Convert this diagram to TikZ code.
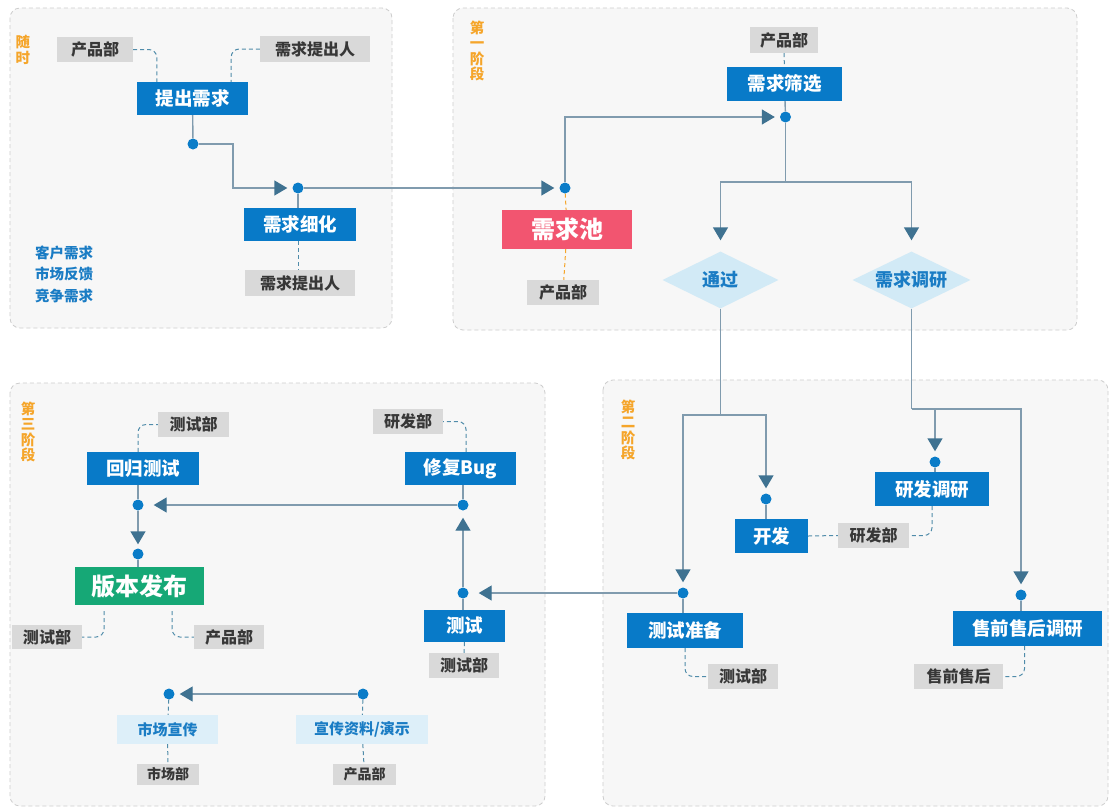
\documentclass[tikz,border=0pt]{standalone}
\usepackage{fontspec}
\setmainfont{Noto Sans CJK SC}
\usetikzlibrary{arrows.meta,shapes.geometric}
\definecolor{boxblue}{RGB}{8,122,200}
\definecolor{boxred}{RGB}{242,85,112}
\definecolor{boxgreen}{RGB}{22,168,118}
\definecolor{boxgray}{RGB}{217,217,217}
\definecolor{graytext}{RGB}{55,55,55}
\definecolor{lightb}{RGB}{210,234,246}
\definecolor{lightbox}{RGB}{221,239,249}
\definecolor{textblue}{RGB}{26,124,196}
\definecolor{panelf}{RGB}{247,247,247}
\definecolor{panelb}{RGB}{205,205,205}
\definecolor{linec}{RGB}{128,155,174}
\definecolor{arrowc}{RGB}{63,114,145}
\definecolor{dotblue}{RGB}{10,124,200}
\definecolor{dashc}{RGB}{80,140,170}
\definecolor{orangec}{RGB}{245,165,42}
\tikzset{
  panel/.style={draw=panelb, fill=panelf, rounded corners=10pt, line width=0.8pt, dash pattern=on 4pt off 3pt},
  bbox/.style={fill=boxblue, text=white, font=\bfseries\fontsize{18.5}{18.5}\selectfont, inner sep=0pt},
  gbox/.style={fill=boxgray, text=graytext, font=\bfseries\fontsize{16}{16}\selectfont, inner sep=0pt},
  sgbox/.style={fill=boxgray, text=graytext, font=\bfseries\fontsize{14}{14}\selectfont, inner sep=0pt},
  lbox/.style={fill=lightbox, text=textblue, font=\bfseries\fontsize{15}{15}\selectfont, inner sep=0pt},
  dia/.style={diamond, aspect=2.05, fill=lightb, text=textblue, font=\bfseries\fontsize{18}{18}\selectfont, inner sep=0pt},
  dotn/.style={circle, fill=dotblue, minimum size=11pt, inner sep=0pt},
  flow/.style={draw=linec, line width=1.4pt, -{Triangle[length=13pt,width=15pt,color=arrowc,fill=arrowc]}, shorten >=5pt},
  plain/.style={draw=linec, line width=1.4pt},
  dcon/.style={draw=dashc, line width=1pt, dash pattern=on 4pt off 3pt, rounded corners=8pt},
  ocon/.style={draw=orangec, line width=1pt, dash pattern=on 4pt off 3pt},
  stage/.style={text=orangec, font=\bfseries\fontsize{14.5}{15.5}\selectfont, align=center, inner sep=0pt},
}
\begin{document}
\begin{tikzpicture}[x=1pt,y=-1pt]
\useasboundingbox (0,0) rectangle (1110,809);
\fill[white] (0,0) rectangle (1110,809);
% panels
\path[panel] (10,8) rectangle (392,328);
\path[panel] (453,8) rectangle (1077,330);
\path[panel] (10,383) rectangle (545,806);
\path[panel] (603,380) rectangle (1108,806);
% stage labels
\node[stage] (s0) at (23,50) {随\\时};
\node[stage] (s1) at (477,51) {第\\一\\阶\\段};
\node[stage] (s3) at (28,432) {第\\三\\阶\\段};
\node[stage] (s2) at (628,430) {第\\二\\阶\\段};
\node[text=textblue, font=\bfseries\fontsize{14.5}{21.5}\selectfont, align=left, inner sep=0pt] (src) at (64,274) {客户需求\\市场反馈\\竞争需求};

% ---------- panel 1
\node[gbox, minimum width=76pt, minimum height=25pt] (g1) at (95,49.5) {产品部};
\node[gbox, minimum width=110pt, minimum height=26pt] (g2) at (315,49) {需求提出人};
\node[bbox, minimum width=111pt, minimum height=33pt] (tcxq) at (192.5,98.5) {提出需求};
\node[bbox, minimum width=112pt, minimum height=33pt] (xqxh) at (300,224.5) {需求细化};
\node[gbox, minimum width=110pt, minimum height=26pt] (g3) at (300,283) {需求提出人};
\node[dotn] (dA) at (193,144) {};
\node[dotn] (dB) at (298,188) {};

% ---------- panel 2
\node[bbox, fill=boxred, font=\bfseries\fontsize{24}{24}\selectfont, minimum width=130pt, minimum height=39pt] (pool) at (567,229.5) {需求池};
\node[gbox, minimum width=72pt, minimum height=25pt] (g4) at (563,292.5) {产品部};
\node[bbox, minimum width=115pt, minimum height=34pt] (sx) at (784.5,84) {需求筛选};
\node[gbox, minimum width=68pt, minimum height=26pt] (g5) at (784,40) {产品部};
\node[dotn] (dC) at (565,188) {};
\node[dotn] (dD) at (785.5,117) {};
\node[dia, minimum width=116pt, minimum height=57pt] (pass) at (720.5,280) {通过};
\node[dia, minimum width=118pt, minimum height=57pt] (res) at (911.5,280) {需求调研};

% ---------- panel 4 (第二阶段)
\node[bbox, minimum width=114pt, minimum height=34pt] (rdy) at (932,489) {研发调研};
\node[bbox, minimum width=73pt, minimum height=34pt] (kf) at (771.5,536) {开发};
\node[gbox, minimum width=71pt, minimum height=25pt] (g6) at (873.5,535.5) {研发部};
\node[bbox, minimum width=116pt, minimum height=35pt] (cszb) at (685,630.5) {测试准备};
\node[gbox, minimum width=70pt, minimum height=25pt] (g7) at (743,676.5) {测试部};
\node[bbox, minimum width=149pt, minimum height=35pt] (sq) at (1027.5,628.5) {售前售后调研};
\node[gbox, minimum width=89pt, minimum height=25pt] (g8) at (958.5,676.5) {售前售后};
\node[dotn] (dE) at (766,499) {};
\node[dotn] (dF) at (935,462) {};
\node[dotn] (dG) at (683,593) {};
\node[dotn] (dH) at (1021,595) {};

% ---------- panel 3 (第三阶段)
\node[gbox, minimum width=71pt, minimum height=25pt] (g9) at (193.5,424.5) {测试部};
\node[bbox, minimum width=112pt, minimum height=33pt] (hg) at (143,468.5) {回归测试};
\node[gbox, minimum width=70pt, minimum height=25pt] (g10) at (408,421.5) {研发部};
\node[bbox, minimum width=111pt, minimum height=33pt] (fx) at (460.5,468.5) {修复Bug};
\node[bbox, fill=boxgreen, font=\bfseries\fontsize{24}{24}\selectfont, minimum width=129pt, minimum height=38pt] (bb) at (139.5,586) {版本发布};
\node[gbox, minimum width=70pt, minimum height=24pt] (g11) at (47,637) {测试部};
\node[gbox, minimum width=70pt, minimum height=24pt] (g12) at (229,637) {产品部};
\node[bbox, minimum width=81pt, minimum height=32pt] (cs) at (464.5,626) {测试};
\node[gbox, minimum width=70pt, minimum height=25pt] (g13) at (464,665.5) {测试部};
\node[lbox, minimum width=101pt, minimum height=29pt] (sc) at (167.5,729.5) {市场宣传};
\node[sgbox, minimum width=62pt, minimum height=21pt] (g14) at (168,774.5) {市场部};
\node[lbox, minimum width=132pt, minimum height=29pt] (xc) at (362,729.5) {宣传资料/演示};
\node[sgbox, minimum width=63pt, minimum height=21pt] (g15) at (364.5,774.5) {产品部};
\node[dotn] (dI) at (463,593) {};
\node[dotn] (dJ) at (463,505) {};
\node[dotn] (dK) at (138,505) {};
\node[dotn] (dL) at (138,554) {};
\node[dotn] (dM) at (169,694) {};
\node[dotn] (dN) at (363,694) {};

% ---------- dashed helper connectors
\draw[dcon] (g1.east) -| ([xshift=20pt]tcxq.north west);
\draw[dcon] (g2.west) -| ([xshift=-17pt]tcxq.north east);
\draw[dcon] (xqxh.south -| dB) -- (g3.north -| dB);
\draw[dcon] (g5) -- (sx);
\draw[dcon] (rdy.south) |- (g6.east);
\draw[dcon] (kf.east) -- (g6.west);
\draw[dcon] (cszb.south) |- (g7.west);
\draw[dcon] ([xshift=-3pt]sq.south) |- (g8.east);
\draw[dcon] ([xshift=-5pt]hg.north) |- (g9.west);
\draw[dcon] ([xshift=5.5pt]fx.north) |- (g10.east);
\draw[dcon] ([xshift=-35.5pt,yshift=-6pt]bb.south) |- (g11.east);
\draw[dcon] ([xshift=32.5pt,yshift=-6pt]bb.south) |- (g12.west);
\draw[dcon] (cs) -- (g13);
\draw[dcon] (sc) -- (g14);
\draw[dcon] (xc) -- (g15);
\draw[dcon] (dM) -- (sc);
\draw[dcon] (dN) -- (xc);
\draw[ocon] (dC) -- (pool);
\draw[ocon] (pool) -- (g4);

% ---------- solid box-dot links
\draw[plain] (tcxq) -- (dA);
\draw[plain] (dB) -- (dB |- xqxh.north);
\draw[plain] (sx) -- (dD);
\draw[plain] (dE) -- (dE |- kf.north);
\draw[plain] (dF) -- (dF |- rdy.north);
\draw[plain] (dG) -- (dG |- cszb.north);
\draw[plain] (dH) -- (dH |- sq.north);
\draw[plain] (dI) -- (dI |- cs.north);
\draw[plain] (dJ |- fx.south) -- (dJ);
\draw[plain] (dK |- hg.south) -- (dK);
\draw[plain] (dL) -- (dL |- bb.north);

% ---------- flow arrows
\draw[flow] (dA) -- (233,144) |- (dB);
\draw[flow] (dB) -- (dC);
\draw[flow] (dC) |- (dD);
\coordinate (j0) at (785.5,182);
\draw[plain] (dD) -- (j0);
\draw[flow, shorten >=11pt] (j0) -| (pass);
\draw[flow, shorten >=11pt] (j0) -| (res);
\coordinate (j1) at (720.5,415);
\draw[plain] (pass) -- (j1);
\draw[flow] (j1) -| (dG);
\draw[flow] (j1) -| (dE);
\coordinate (j2) at (911.5,409);
\draw[plain] (res) -- (j2);
\draw[flow] (j2) -| (dF);
\draw[flow] (j2) -| (dH);
\draw[flow, shorten >=10pt] (dG) -- (dI);
\draw[flow, shorten >=7pt] (dI) -- (dJ);
\draw[flow, shorten >=10pt] (dJ) -- (dK);
\draw[flow, shorten >=4pt] (dK) -- (dL);
\draw[flow] (dN) -- (dM);
\end{tikzpicture}
\end{document}
